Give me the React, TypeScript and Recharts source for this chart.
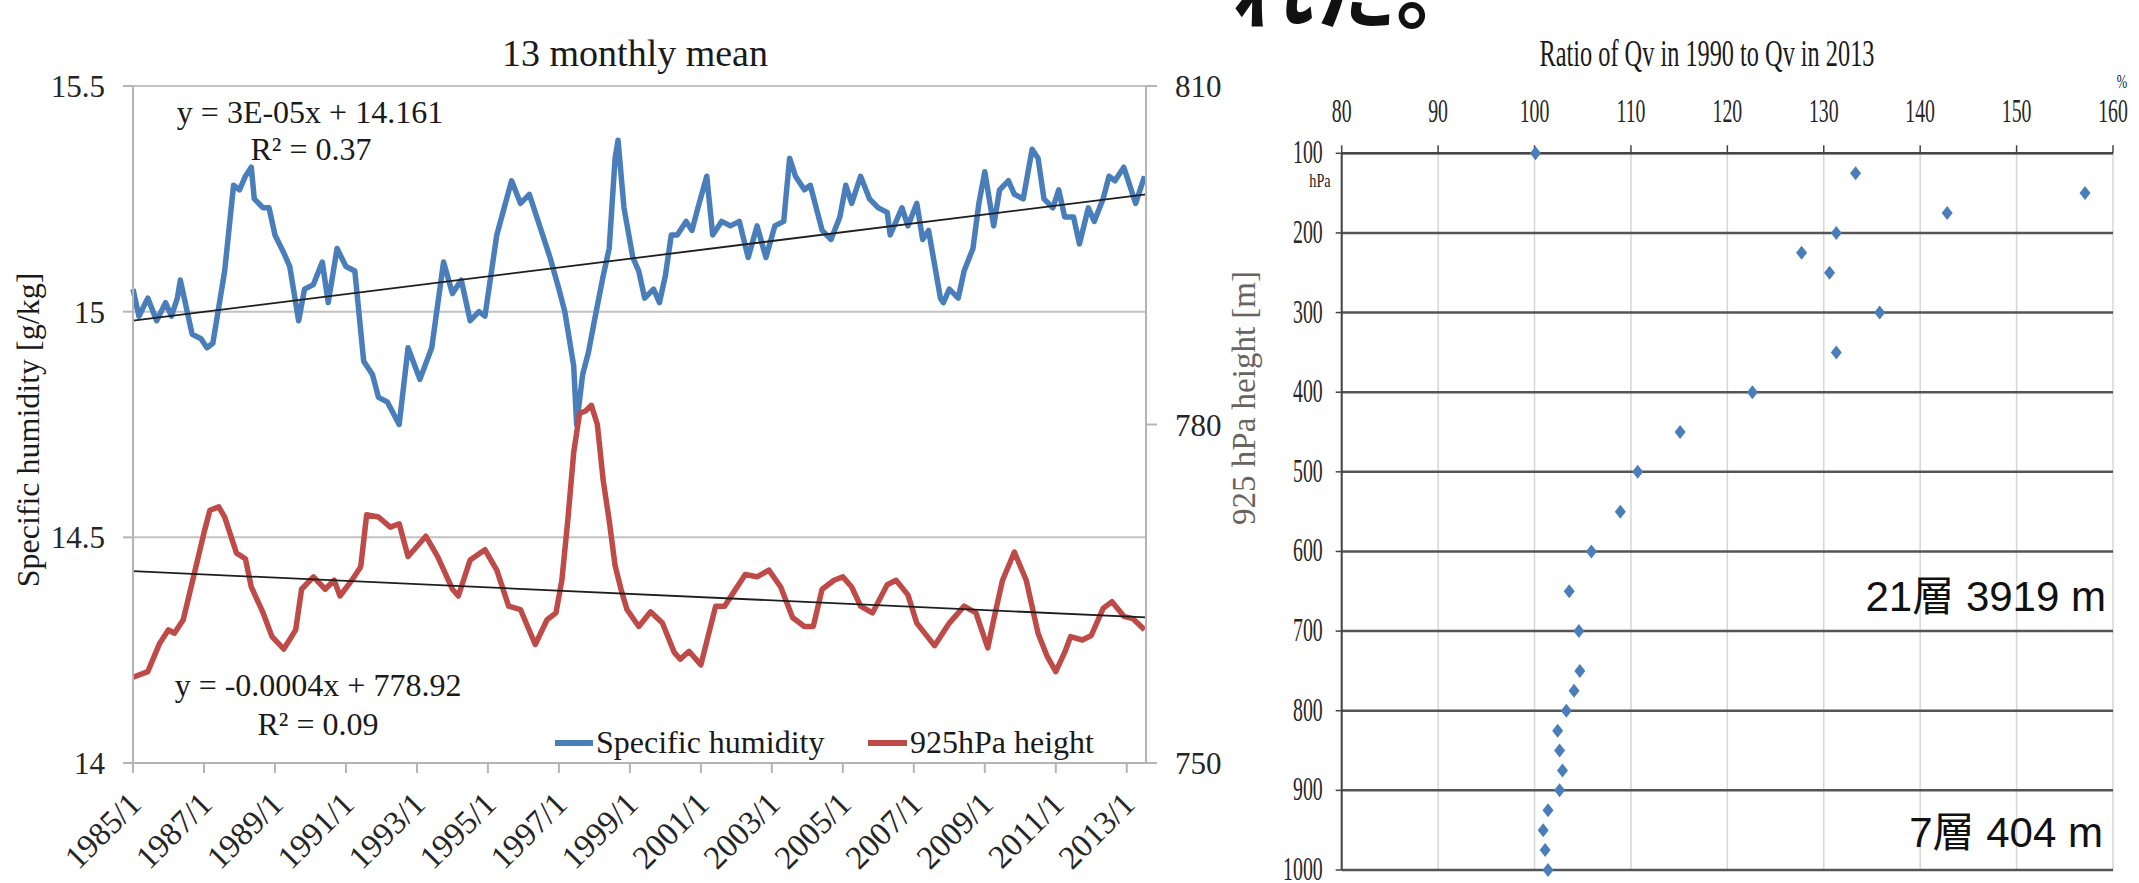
import React from 'react'
import {
  LineChart, Line, XAxis, YAxis, CartesianGrid, ReferenceLine,
  ScatterChart, Scatter,
} from 'recharts'

const SERIF = '"Liberation Serif", "Times New Roman", serif'
const SANS = '"Liberation Sans", Arial, "Noto Sans CJK JP", sans-serif'
const CJK = '"Noto Sans CJK JP", "Noto Sans CJK SC", sans-serif'

// 13-month running means; month index counted from 1985/1
const humidityMonths = [
  0, 2, 5, 8, 11, 13, 15, 16, 20, 23, 25, 27, 29, 31, 34, 36, 38, 40, 41, 44, 46, 48, 51, 53, 56, 58,
  61, 64, 66, 69, 72, 75, 78, 81, 83, 86, 90, 93, 97, 101, 105, 108, 111, 114, 117, 119, 123, 128,
  131, 134, 137, 141, 144, 146, 149, 150, 152, 154, 156, 159, 161, 163, 164, 166, 169, 171, 173, 176,
  178, 180, 182, 184, 187, 189, 191, 194, 196, 199, 202, 205, 208, 211, 214, 217, 220, 222, 224, 227,
  229, 233, 236, 239, 241, 243, 246, 249, 252, 255, 256, 260, 262, 265, 267, 269, 273, 274, 276, 279,
  281, 284, 286, 288, 291, 293, 296, 298, 301, 304, 306, 308, 311, 313, 315, 318, 320, 323, 325, 328,
  330, 332, 335, 337, 339, 341, 342,
]
const humidityValues = [
  15.05, 14.99, 15.03, 14.98, 15.02, 14.99, 15.03, 15.07, 14.95, 14.94, 14.92, 14.93, 15.01, 15.09,
  15.28, 15.27, 15.30, 15.32, 15.25, 15.23, 15.23, 15.17, 15.13, 15.10, 14.98, 15.05, 15.06, 15.11,
  15.02, 15.14, 15.10, 15.09, 14.89, 14.86, 14.81, 14.80, 14.75, 14.92, 14.85, 14.92, 15.11, 15.04,
  15.07, 14.98, 15.00, 14.99, 15.17, 15.29, 15.24, 15.26, 15.20, 15.12, 15.05, 15.00, 14.88, 14.75,
  14.86, 14.91, 14.98, 15.08, 15.14, 15.34, 15.38, 15.23, 15.12, 15.09, 15.03, 15.05, 15.02, 15.08,
  15.17, 15.17, 15.20, 15.18, 15.23, 15.30, 15.17, 15.20, 15.19, 15.20, 15.12, 15.19, 15.12, 15.19,
  15.20, 15.34, 15.30, 15.27, 15.28, 15.18, 15.16, 15.21, 15.28, 15.24, 15.30, 15.25, 15.23, 15.22,
  15.17, 15.23, 15.19, 15.24, 15.16, 15.18, 15.03, 15.02, 15.05, 15.03, 15.09, 15.14, 15.24, 15.31,
  15.19, 15.27, 15.29, 15.26, 15.25, 15.36, 15.34, 15.25, 15.23, 15.27, 15.21, 15.21, 15.15, 15.23,
  15.20, 15.25, 15.30, 15.29, 15.32, 15.28, 15.24, 15.28, 15.30,
]

const heightMonths = [
  0, 5, 9, 12, 14, 17, 21, 24, 26, 29, 31, 35, 38, 40, 44, 47, 51, 55, 57, 61, 65, 68, 70, 74, 77, 79,
  83, 87, 90, 93, 99, 103, 108, 110, 114, 119, 123, 127, 131, 136, 140, 143, 145, 147, 149, 151, 153,
  155, 157, 159, 161, 163, 165, 167, 171, 175, 179, 183, 185, 188, 192, 197, 200, 203, 207, 211, 215,
  219, 223, 227, 230, 233, 237, 240, 243, 246, 250, 255, 258, 262, 265, 271, 276, 281, 285, 289, 291,
  294, 298, 302, 306, 309, 312, 315, 317, 321, 324, 328, 331, 335, 338, 342,
]
const heightValues = [
  757.6, 758.1, 760.6, 761.8, 761.5, 762.7, 767.1, 770.4, 772.4, 772.7, 771.8, 768.6, 768.1, 765.6,
  763.3, 761.2, 760.1, 761.8, 765.4, 766.5, 765.4, 766.2, 764.8, 766.2, 767.4, 772.0, 771.8, 770.9,
  771.2, 768.3, 770.1, 768.3, 765.4, 764.8, 768.0, 768.9, 767.1, 763.9, 763.6, 760.5, 762.7, 763.3,
  766.2, 771.5, 777.5, 781.0, 781.2, 781.7, 780.0, 775.0, 771.5, 767.5, 765.4, 763.6, 762.1, 763.4,
  762.4, 759.8, 759.2, 759.9, 758.7, 763.9, 763.9, 765.1, 766.7, 766.5, 767.1, 765.6, 762.9, 762.1,
  762.1, 765.4, 766.2, 766.5, 765.6, 763.9, 763.3, 765.8, 766.2, 764.9, 762.4, 760.4, 762.4, 763.9,
  763.3, 760.2, 762.7, 766.2, 768.7, 766.2, 761.5, 759.5, 758.1, 759.8, 761.2, 760.9, 761.3, 763.7,
  764.3, 763.0, 762.8, 761.8,
]

// linear trend lines, first and last month
const trendMonths = [0, 342.5]
const humidityTrend = [14.98, 15.26]
const heightTrend = [767.0, 762.9]

const yearTicks = [0, 24, 48, 72, 96, 120, 144, 168, 192, 216, 240, 264, 288, 312, 336]
const yearLabels = [
  '1985/1', '1987/1', '1989/1', '1991/1', '1993/1', '1995/1', '1997/1', '1999/1',
  '2001/1', '2003/1', '2005/1', '2007/1', '2009/1', '2011/1', '2013/1',
]
const humidityTicks = [14, 14.5, 15, 15.5]
const heightTicks = [750, 780, 810]

// Qv ratio profile by pressure level
const levels = [
  100, 125, 150, 175, 200, 225, 250, 300, 350, 400, 450, 500, 550, 600,
  650, 700, 750, 775, 800, 825, 850, 875, 900, 925, 950, 975, 1000,
]
const ratios = [
  100.1, 133.3, 157.1, 142.8, 131.3, 127.7, 130.6, 135.8, 131.3, 122.6, 115.1, 110.7, 108.9, 105.9,
  103.6, 104.6, 104.7, 104.1, 103.3, 102.4, 102.6, 102.9, 102.6, 101.4, 100.9, 101.1, 101.4,
]
const ratioTicks = [80, 90, 100, 110, 120, 130, 140, 150, 160]
const levelTicks = [100, 200, 300, 400, 500, 600, 700, 800, 900, 1000]

const humiditySeries = humidityMonths.map((m, i) => ({ m, v: humidityValues[i] }))
const heightSeries = heightMonths.map((m, i) => ({ m, v: heightValues[i] }))
const profile = levels.map((p, i) => ({ p, r: ratios[i] }))

const AXIS_GRAY = '#b4b4b4'
const BLUE = '#4a7ebb'
const RED = '#be4b48'

const YearTick = (props: any) => {
  const { x, y, payload } = props
  const ax = x + 10
  const ay = y + 33
  return (
    <text x={ax} y={ay} transform={`rotate(-45 ${ax} ${ay})`} textAnchor="end"
      fontSize={33} fontFamily={SERIF} fill="#262626">
      {yearLabels[yearTicks.indexOf(payload.value)]}
    </text>
  )
}

// the profile panel uses narrow lettering
const RatioTick = (props: any) => {
  const { x, y, payload } = props
  return (
    <text transform={`translate(${x} ${y - 23}) scale(0.6 1)`} textAnchor="middle"
      fontSize={33} fontFamily={SERIF} fill="#262626">
      {payload.value}
    </text>
  )
}

const LevelTick = (props: any) => {
  const { x, y, payload } = props
  return (
    <text transform={`translate(${x + 1} ${y + 10}) scale(0.6 1)`} textAnchor="end"
      fontSize={33} fontFamily={SERIF} fill="#262626">
      {payload.value}
    </text>
  )
}

const Diamond = (props: any) => {
  const { cx, cy } = props
  return <path d={`M${cx} ${cy - 7}L${cx + 5.5} ${cy}L${cx} ${cy + 7}L${cx - 5.5} ${cy}Z`} fill={BLUE} />
}

function MonthlyChart() {
  const tickStyle = { fontSize: 31, fontFamily: SERIF, fill: '#262626' }
  return (
    <LineChart width={1300} height={883} margin={{ top: 86, right: 0, bottom: 0, left: 0 }}>
      <CartesianGrid yAxisId="q" vertical={false} stroke="#c2c2c2" strokeWidth={2} />
      <XAxis dataKey="m" type="number" domain={[0, 342.5]} ticks={yearTicks} height={120}
        tickSize={10} tickMargin={0} tick={<YearTick />}
        axisLine={{ stroke: AXIS_GRAY, strokeWidth: 2 }} tickLine={{ stroke: AXIS_GRAY, strokeWidth: 2 }} />
      <YAxis yAxisId="q" domain={[14, 15.5]} ticks={humidityTicks} width={133}
        tickSize={10} tickMargin={18} tick={tickStyle}
        axisLine={{ stroke: AXIS_GRAY, strokeWidth: 2 }} tickLine={{ stroke: AXIS_GRAY, strokeWidth: 2 }} />
      <YAxis yAxisId="z" orientation="right" domain={[750, 810]} ticks={heightTicks} width={154}
        tickSize={11} tickMargin={18} tick={tickStyle}
        axisLine={{ stroke: AXIS_GRAY, strokeWidth: 2 }} tickLine={{ stroke: AXIS_GRAY, strokeWidth: 2 }} />
      <Line yAxisId="q" data={humiditySeries} dataKey="v" type="linear" stroke={BLUE} strokeWidth={5.5}
        strokeLinejoin="round" dot={false} activeDot={false} isAnimationActive={false} />
      <Line yAxisId="z" data={heightSeries} dataKey="v" type="linear" stroke={RED} strokeWidth={5.5}
        strokeLinejoin="round" dot={false} activeDot={false} isAnimationActive={false} />
      <ReferenceLine yAxisId="q" stroke="#1e1e1e" strokeWidth={1.8}
        segment={[{ x: trendMonths[0], y: humidityTrend[0] }, { x: trendMonths[1], y: humidityTrend[1] }]} />
      <ReferenceLine yAxisId="z" stroke="#1e1e1e" strokeWidth={1.8}
        segment={[{ x: trendMonths[0], y: heightTrend[0] }, { x: trendMonths[1], y: heightTrend[1] }]} />
    </LineChart>
  )
}

function ProfileChart() {
  return (
    <ScatterChart width={909} height={883} margin={{ top: 93.3, right: 26, bottom: 13, left: 0 }}>
      <CartesianGrid horizontal={false} stroke="#d6d6d6" strokeWidth={1.5} />
      <CartesianGrid vertical={false} stroke="#555" strokeWidth={2.5} />
      <XAxis dataKey="r" type="number" orientation="top" domain={[80, 160]} ticks={ratioTicks}
        height={60} tickSize={8} tickMargin={0} tick={<RatioTick />}
        axisLine={{ stroke: '#444', strokeWidth: 2 }} tickLine={{ stroke: '#444', strokeWidth: 1.5 }} />
      <YAxis dataKey="p" type="number" reversed domain={[100, 1000]} ticks={levelTicks}
        width={111.7} tickSize={6} tickMargin={14} tick={<LevelTick />}
        axisLine={{ stroke: '#444', strokeWidth: 2 }} tickLine={{ stroke: '#444', strokeWidth: 1.5 }} />
      <Scatter data={profile} shape={<Diamond />} isAnimationActive={false} />
    </ScatterChart>
  )
}

export default function App() {
  return (
    <div style={{ position: 'absolute', left: 0, top: 0, width: 2139, height: 883, background: '#fff', overflow: 'hidden' }}>
      <div style={{ position: 'absolute', left: 0, top: 0 }}>
        <MonthlyChart />
      </div>
      <div style={{ position: 'absolute', left: 1230, top: 0 }}>
        <ProfileChart />
      </div>
      <svg width={2139} height={883} style={{ position: 'absolute', left: 0, top: 0, pointerEvents: 'none' }}>
        <g fontFamily={SERIF} fill="#1a1a1a">
          <text x={635} y={66} fontSize={38} textAnchor="middle">13 monthly mean</text>
          <text x={310} y={123} fontSize={32} textAnchor="middle">y = 3E-05x + 14.161</text>
          <text x={311} y={160} fontSize={32} textAnchor="middle">R² = 0.37</text>
          <text x={318} y={696} fontSize={32} textAnchor="middle">y = -0.0004x + 778.92</text>
          <text x={318} y={735} fontSize={32} textAnchor="middle">R² = 0.09</text>
          <text transform="translate(39 430) rotate(-90)" fontSize={32} textAnchor="middle">Specific humidity [g/kg]</text>
          <text transform="translate(1255 398) rotate(-90)" fontSize={33} textAnchor="middle" fill="#6a6460">925 hPa height [m]</text>
          <line x1={555} x2={593} y1={743} y2={743} stroke={BLUE} strokeWidth={6} />
          <text x={596} y={753} fontSize={32}>Specific humidity</text>
          <line x1={868} x2={907} y1={743} y2={743} stroke={RED} strokeWidth={6} />
          <text x={910} y={753} fontSize={32}>925hPa height</text>
          <text transform="translate(1707 66) scale(0.64 1)" fontSize={38} textAnchor="middle">Ratio of Qv in 1990 to Qv in 2013</text>
          <text transform="translate(2122 88) scale(0.7 1)" fontSize={18} textAnchor="middle">%</text>
          <text transform="translate(1320 187) scale(0.75 1)" fontSize={19} textAnchor="middle">hPa</text>
        </g>
        <g fontFamily={SANS} fill="#111" fontSize={42} textAnchor="end">
          <text x={2106} y={611}>21層 3919 m</text>
          <text x={2103} y={847}>7層 404 m</text>
        </g>
        <text x={1232} y={22} fontFamily={CJK} fontWeight={700} fontSize={82} fill="#111">れた。</text>
      </svg>
    </div>
  )
}
